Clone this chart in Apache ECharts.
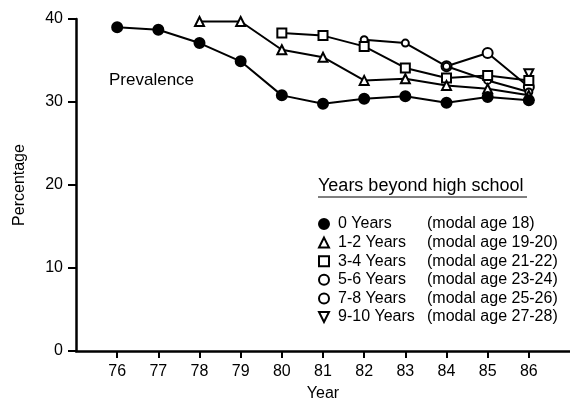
<!DOCTYPE html>
<html>
<head>
<meta charset="utf-8">
<script src="https://cdn.jsdelivr.net/npm/echarts@6/dist/echarts.min.js"></script>
<style>html,body{margin:0;padding:0;background:#fff;}#c{width:570px;height:410px;}</style>
</head>
<body>
<div id="c"></div>
<script>
const xTicks = [76, 77, 78, 79, 80, 81, 82, 83, 84, 85, 86];
const yTicks = [0, 10, 20, 30, 40];
const seriesNames = ['0 Years', '1-2 Years', '3-4 Years', '5-6 Years', '7-8 Years', '9-10 Years'];
const modalAges = ['(modal age 18)', '(modal age 19-20)', '(modal age 21-22)', '(modal age 23-24)', '(modal age 25-26)', '(modal age 27-28)'];
const startYears = [76, 78, 80, 82, 84, 86];
const s0 = [39.0, 38.7, 37.1, 34.9, 30.8, 29.8, 30.4, 30.7, 29.9, 30.6, 30.2];
const s12 = [39.7, 39.7, 36.3, 35.4, 32.6, 32.8, 32.0, 31.6, 30.8];
const s34 = [38.3, 38.0, 36.7, 34.1, 32.9, 33.2, 32.6];
const s56 = [37.5, 37.1, 34.3, 32.6, 31.2];
const s78 = [34.3, 35.9, 31.8];
const s910 = [33.4];
const allValues = [s0, s12, s34, s56, s78, s910];

const FONT = '"Liberation Sans", Arial, Helvetica, sans-serif';
const symbols = ['circle', 'triangle', 'rect', 'circle', 'circle', 'path://M0,0 L10,0 L5,10 Z'];
const sizes = [10, 9, 9, 7, 10, 9];
const filled = [true, false, false, false, false, false];

const chart = echarts.init(document.getElementById('c'), null, {renderer: 'canvas'});
const series = allValues.map((vals, i) => ({
  name: seriesNames[i],
  type: 'line',
  data: vals.map((v, j) => [startYears[i] + j, v]),
  symbol: symbols[i],
  symbolSize: sizes[i],
  showAllSymbol: true,
  lineStyle: {color: '#000', width: 2},
  itemStyle: {color: filled[i] ? '#000' : '#fff', borderColor: '#000', borderWidth: 2},
  emphasis: {disabled: true},
  z: 10 - i,
  animation: false
}));

chart.setOption({
  animation: false,
  backgroundColor: '#fff',
  grid: {left: 76, right: 0, top: 19, bottom: 59},
  xAxis: {
    type: 'value', min: 75, max: 87,
    name: 'Year', nameLocation: 'middle', nameGap: 35,
    nameTextStyle: {color: '#000', fontSize: 16, fontFamily: FONT},
    axisLine: {lineStyle: {color: '#000', width: 2.5}},
    axisTick: {show: true, customValues: xTicks, length: 7, lineStyle: {color: '#000', width: 2}},
    axisLabel: {customValues: xTicks, color: '#000', fontSize: 16, fontFamily: FONT, margin: 13},
    splitLine: {show: false}
  },
  yAxis: {
    type: 'value', min: 0, max: 40, interval: 10,
    name: 'Percentage', nameLocation: 'middle', nameGap: 48, nameRotate: 90,
    nameTextStyle: {color: '#000', fontSize: 16, fontFamily: FONT},
    axisLine: {show: true, lineStyle: {color: '#000', width: 2.5}},
    axisTick: {show: true, length: 8, lineStyle: {color: '#000', width: 2}},
    axisLabel: {color: '#000', fontSize: 16, fontFamily: FONT, margin: 13,
      formatter: v => yTicks.includes(v) ? String(v) : ''},
    splitLine: {show: false}
  },
  legend: {
    orient: 'vertical', left: 313, top: 211,
    itemWidth: 10, itemHeight: 10, itemGap: 2.6,
    selectedMode: false,
    data: seriesNames.map((n, i) => ({name: n, icon: symbols[i]})),
    formatter: name => {
      const i = seriesNames.indexOf(name);
      return '{a|' + name + '}{b|' + modalAges[i] + '}';
    },
    textStyle: {
      color: '#000', fontSize: 16, fontFamily: FONT,
      rich: {
        a: {width: 89, padding: [0, 0, 0, 4], fontSize: 16, fontFamily: FONT, color: '#000', lineHeight: 16},
        b: {fontSize: 16, fontFamily: FONT, color: '#000', lineHeight: 16}
      }
    }
  },
  graphic: [
    {type: 'text', left: 109, top: 72, style: {text: 'Prevalence', fill: '#000', font: '17px ' + FONT}},
    {type: 'text', left: 318, top: 177, style: {text: 'Years beyond high school', fill: '#000', font: '18px ' + FONT}},
    {type: 'line', shape: {x1: 318, y1: 197, x2: 527, y2: 197}, style: {stroke: '#000', lineWidth: 1}}
  ],
  series: series
});
</script>
</body>
</html>
